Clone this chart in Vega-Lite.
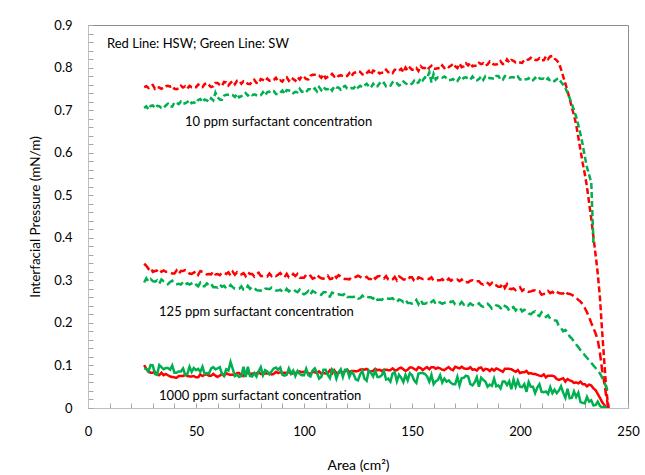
{
"$schema": "https://vega.github.io/schema/vega-lite/v6.json",
"width": 540, "height": 383,
"autosize": {"type": "none"},
"padding": {"left": 88, "top": 25, "right": 17, "bottom": 67},
"background": "white",
"config": {"view": {"stroke": "#8c8c8c", "strokeWidth": 1}, "font": "Lato"},
"datasets": {
"curves": [
{"x":26,"a":0.754,"b":0.705,"c":0.339,"d":0.295,"e":0.101,"f":0.093},
{"x":27,"a":0.756,"b":0.709,"c":0.334,"d":0.305,"e":0.092,"f":0.092},
{"x":28,"a":0.752,"b":0.702,"c":0.327,"d":0.297,"e":0.085,"f":0.086},
{"x":29,"a":0.756,"b":0.710,"c":0.331,"d":0.303,"e":0.083,"f":0.101},
{"x":30,"a":0.759,"b":0.711,"c":0.320,"d":0.298,"e":0.083,"f":0.100},
{"x":31,"a":0.750,"b":0.705,"c":0.322,"d":0.297,"e":0.085,"f":0.080},
{"x":32,"a":0.754,"b":0.710,"c":0.323,"d":0.300,"e":0.078,"f":0.078},
{"x":33,"a":0.753,"b":0.709,"c":0.327,"d":0.292,"e":0.077,"f":0.101},
{"x":34,"a":0.750,"b":0.705,"c":0.320,"d":0.302,"e":0.083,"f":0.096},
{"x":35,"a":0.753,"b":0.705,"c":0.323,"d":0.298,"e":0.077,"f":0.091},
{"x":36,"a":0.756,"b":0.711,"c":0.320,"d":0.297,"e":0.080,"f":0.094},
{"x":37,"a":0.757,"b":0.715,"c":0.320,"d":0.291,"e":0.077,"f":0.094},
{"x":38,"a":0.755,"b":0.709,"c":0.318,"d":0.296,"e":0.074,"f":0.090},
{"x":39,"a":0.757,"b":0.708,"c":0.316,"d":0.299,"e":0.073,"f":0.100},
{"x":40,"a":0.750,"b":0.718,"c":0.316,"d":0.292,"e":0.072,"f":0.083},
{"x":41,"a":0.749,"b":0.717,"c":0.323,"d":0.291,"e":0.071,"f":0.083},
{"x":42,"a":0.751,"b":0.714,"c":0.315,"d":0.292,"e":0.075,"f":0.086},
{"x":43,"a":0.757,"b":0.720,"c":0.322,"d":0.290,"e":0.075,"f":0.086},
{"x":44,"a":0.753,"b":0.715,"c":0.322,"d":0.296,"e":0.075,"f":0.093},
{"x":45,"a":0.756,"b":0.716,"c":0.324,"d":0.290,"e":0.078,"f":0.078},
{"x":46,"a":0.751,"b":0.719,"c":0.323,"d":0.293,"e":0.075,"f":0.080},
{"x":47,"a":0.757,"b":0.723,"c":0.316,"d":0.290,"e":0.074,"f":0.097},
{"x":48,"a":0.754,"b":0.716,"c":0.315,"d":0.293,"e":0.074,"f":0.085},
{"x":49,"a":0.754,"b":0.718,"c":0.318,"d":0.296,"e":0.075,"f":0.094},
{"x":50,"a":0.754,"b":0.716,"c":0.322,"d":0.290,"e":0.072,"f":0.089},
{"x":51,"a":0.760,"b":0.724,"c":0.313,"d":0.286,"e":0.072,"f":0.092},
{"x":52,"a":0.755,"b":0.726,"c":0.322,"d":0.294,"e":0.079,"f":0.085},
{"x":53,"a":0.754,"b":0.719,"c":0.320,"d":0.286,"e":0.075,"f":0.097},
{"x":54,"a":0.761,"b":0.725,"c":0.319,"d":0.286,"e":0.078,"f":0.080},
{"x":55,"a":0.763,"b":0.723,"c":0.314,"d":0.293,"e":0.079,"f":0.082},
{"x":56,"a":0.759,"b":0.720,"c":0.315,"d":0.288,"e":0.076,"f":0.081},
{"x":57,"a":0.754,"b":0.728,"c":0.314,"d":0.292,"e":0.076,"f":0.093},
{"x":58,"a":0.756,"b":0.723,"c":0.321,"d":0.284,"e":0.080,"f":0.096},
{"x":59,"a":0.764,"b":0.741,"c":0.314,"d":0.284,"e":0.076,"f":0.091},
{"x":60,"a":0.764,"b":0.730,"c":0.315,"d":0.283,"e":0.073,"f":0.093},
{"x":61,"a":0.759,"b":0.725,"c":0.312,"d":0.290,"e":0.076,"f":0.096},
{"x":62,"a":0.757,"b":0.724,"c":0.318,"d":0.285,"e":0.080,"f":0.081},
{"x":63,"a":0.766,"b":0.734,"c":0.318,"d":0.287,"e":0.075,"f":0.076},
{"x":64,"a":0.765,"b":0.736,"c":0.315,"d":0.281,"e":0.082,"f":0.091},
{"x":65,"a":0.758,"b":0.736,"c":0.319,"d":0.282,"e":0.079,"f":0.088},
{"x":66,"a":0.764,"b":0.736,"c":0.311,"d":0.289,"e":0.078,"f":0.108},
{"x":67,"a":0.768,"b":0.735,"c":0.320,"d":0.284,"e":0.078,"f":0.092},
{"x":68,"a":0.761,"b":0.731,"c":0.313,"d":0.280,"e":0.077,"f":0.075},
{"x":69,"a":0.769,"b":0.738,"c":0.319,"d":0.279,"e":0.082,"f":0.078},
{"x":70,"a":0.769,"b":0.730,"c":0.314,"d":0.280,"e":0.082,"f":0.073},
{"x":71,"a":0.762,"b":0.733,"c":0.314,"d":0.286,"e":0.076,"f":0.075},
{"x":72,"a":0.768,"b":0.735,"c":0.317,"d":0.278,"e":0.075,"f":0.097},
{"x":73,"a":0.766,"b":0.740,"c":0.310,"d":0.278,"e":0.084,"f":0.073},
{"x":74,"a":0.762,"b":0.734,"c":0.319,"d":0.287,"e":0.082,"f":0.097},
{"x":75,"a":0.761,"b":0.738,"c":0.315,"d":0.280,"e":0.080,"f":0.075},
{"x":76,"a":0.767,"b":0.735,"c":0.315,"d":0.285,"e":0.081,"f":0.074},
{"x":77,"a":0.771,"b":0.737,"c":0.309,"d":0.282,"e":0.081,"f":0.082},
{"x":78,"a":0.764,"b":0.735,"c":0.315,"d":0.277,"e":0.081,"f":0.074},
{"x":79,"a":0.763,"b":0.734,"c":0.318,"d":0.276,"e":0.085,"f":0.086},
{"x":80,"a":0.773,"b":0.735,"c":0.310,"d":0.276,"e":0.080,"f":0.096},
{"x":81,"a":0.771,"b":0.742,"c":0.310,"d":0.274,"e":0.080,"f":0.077},
{"x":82,"a":0.768,"b":0.735,"c":0.311,"d":0.280,"e":0.081,"f":0.089},
{"x":83,"a":0.774,"b":0.742,"c":0.309,"d":0.280,"e":0.081,"f":0.086},
{"x":84,"a":0.769,"b":0.743,"c":0.316,"d":0.279,"e":0.082,"f":0.079},
{"x":85,"a":0.769,"b":0.746,"c":0.310,"d":0.283,"e":0.079,"f":0.086},
{"x":86,"a":0.771,"b":0.745,"c":0.313,"d":0.279,"e":0.080,"f":0.093},
{"x":87,"a":0.776,"b":0.738,"c":0.310,"d":0.276,"e":0.085,"f":0.095},
{"x":88,"a":0.768,"b":0.738,"c":0.313,"d":0.276,"e":0.082,"f":0.090},
{"x":89,"a":0.770,"b":0.741,"c":0.317,"d":0.278,"e":0.084,"f":0.095},
{"x":90,"a":0.767,"b":0.746,"c":0.311,"d":0.273,"e":0.082,"f":0.078},
{"x":91,"a":0.775,"b":0.738,"c":0.307,"d":0.272,"e":0.083,"f":0.076},
{"x":92,"a":0.777,"b":0.747,"c":0.315,"d":0.280,"e":0.082,"f":0.078},
{"x":93,"a":0.769,"b":0.746,"c":0.307,"d":0.274,"e":0.085,"f":0.093},
{"x":94,"a":0.776,"b":0.745,"c":0.308,"d":0.278,"e":0.080,"f":0.081},
{"x":95,"a":0.773,"b":0.740,"c":0.315,"d":0.279,"e":0.082,"f":0.088},
{"x":96,"a":0.769,"b":0.743,"c":0.310,"d":0.275,"e":0.082,"f":0.075},
{"x":97,"a":0.777,"b":0.742,"c":0.315,"d":0.272,"e":0.085,"f":0.087},
{"x":98,"a":0.772,"b":0.750,"c":0.306,"d":0.278,"e":0.086,"f":0.080},
{"x":99,"a":0.780,"b":0.743,"c":0.306,"d":0.270,"e":0.084,"f":0.077},
{"x":100,"a":0.778,"b":0.744,"c":0.306,"d":0.267,"e":0.085,"f":0.077},
{"x":101,"a":0.773,"b":0.742,"c":0.313,"d":0.270,"e":0.086,"f":0.092},
{"x":102,"a":0.772,"b":0.749,"c":0.309,"d":0.275,"e":0.082,"f":0.077},
{"x":103,"a":0.781,"b":0.749,"c":0.311,"d":0.267,"e":0.080,"f":0.074},
{"x":104,"a":0.783,"b":0.747,"c":0.304,"d":0.275,"e":0.085,"f":0.088},
{"x":105,"a":0.783,"b":0.751,"c":0.306,"d":0.272,"e":0.084,"f":0.093},
{"x":106,"a":0.782,"b":0.744,"c":0.313,"d":0.268,"e":0.082,"f":0.083},
{"x":107,"a":0.781,"b":0.754,"c":0.308,"d":0.268,"e":0.086,"f":0.069},
{"x":108,"a":0.776,"b":0.747,"c":0.305,"d":0.266,"e":0.081,"f":0.073},
{"x":109,"a":0.784,"b":0.754,"c":0.304,"d":0.272,"e":0.082,"f":0.090},
{"x":110,"a":0.775,"b":0.749,"c":0.306,"d":0.272,"e":0.081,"f":0.090},
{"x":111,"a":0.778,"b":0.749,"c":0.311,"d":0.263,"e":0.082,"f":0.078},
{"x":112,"a":0.780,"b":0.753,"c":0.303,"d":0.262,"e":0.089,"f":0.070},
{"x":113,"a":0.785,"b":0.746,"c":0.304,"d":0.271,"e":0.081,"f":0.091},
{"x":114,"a":0.779,"b":0.756,"c":0.313,"d":0.269,"e":0.089,"f":0.086},
{"x":115,"a":0.783,"b":0.753,"c":0.306,"d":0.266,"e":0.082,"f":0.069},
{"x":116,"a":0.780,"b":0.753,"c":0.312,"d":0.267,"e":0.082,"f":0.084},
{"x":117,"a":0.782,"b":0.748,"c":0.309,"d":0.266,"e":0.086,"f":0.091},
{"x":118,"a":0.780,"b":0.754,"c":0.304,"d":0.265,"e":0.083,"f":0.073},
{"x":119,"a":0.780,"b":0.757,"c":0.303,"d":0.269,"e":0.086,"f":0.090},
{"x":120,"a":0.780,"b":0.751,"c":0.303,"d":0.261,"e":0.090,"f":0.090},
{"x":121,"a":0.787,"b":0.751,"c":0.302,"d":0.261,"e":0.084,"f":0.073},
{"x":122,"a":0.780,"b":0.752,"c":0.308,"d":0.261,"e":0.087,"f":0.085},
{"x":123,"a":0.787,"b":0.751,"c":0.308,"d":0.261,"e":0.087,"f":0.079},
{"x":124,"a":0.789,"b":0.758,"c":0.308,"d":0.263,"e":0.086,"f":0.067},
{"x":125,"a":0.791,"b":0.753,"c":0.311,"d":0.257,"e":0.087,"f":0.065},
{"x":126,"a":0.790,"b":0.757,"c":0.308,"d":0.258,"e":0.090,"f":0.079},
{"x":127,"a":0.784,"b":0.754,"c":0.305,"d":0.264,"e":0.091,"f":0.087},
{"x":128,"a":0.783,"b":0.758,"c":0.305,"d":0.259,"e":0.090,"f":0.069},
{"x":129,"a":0.787,"b":0.762,"c":0.308,"d":0.262,"e":0.092,"f":0.064},
{"x":130,"a":0.792,"b":0.756,"c":0.303,"d":0.260,"e":0.087,"f":0.088},
{"x":131,"a":0.783,"b":0.753,"c":0.303,"d":0.260,"e":0.086,"f":0.083},
{"x":132,"a":0.793,"b":0.762,"c":0.310,"d":0.257,"e":0.087,"f":0.074},
{"x":133,"a":0.791,"b":0.755,"c":0.304,"d":0.262,"e":0.092,"f":0.087},
{"x":134,"a":0.791,"b":0.756,"c":0.309,"d":0.254,"e":0.089,"f":0.073},
{"x":135,"a":0.786,"b":0.763,"c":0.310,"d":0.255,"e":0.090,"f":0.073},
{"x":136,"a":0.788,"b":0.759,"c":0.306,"d":0.254,"e":0.087,"f":0.077},
{"x":137,"a":0.788,"b":0.764,"c":0.304,"d":0.259,"e":0.090,"f":0.087},
{"x":138,"a":0.795,"b":0.756,"c":0.310,"d":0.259,"e":0.090,"f":0.067},
{"x":139,"a":0.789,"b":0.757,"c":0.302,"d":0.257,"e":0.089,"f":0.069},
{"x":140,"a":0.790,"b":0.757,"c":0.299,"d":0.257,"e":0.089,"f":0.062},
{"x":141,"a":0.787,"b":0.765,"c":0.302,"d":0.258,"e":0.093,"f":0.081},
{"x":142,"a":0.795,"b":0.761,"c":0.308,"d":0.252,"e":0.089,"f":0.084},
{"x":143,"a":0.795,"b":0.763,"c":0.300,"d":0.249,"e":0.089,"f":0.063},
{"x":144,"a":0.793,"b":0.758,"c":0.309,"d":0.255,"e":0.093,"f":0.078},
{"x":145,"a":0.797,"b":0.760,"c":0.306,"d":0.253,"e":0.095,"f":0.071},
{"x":146,"a":0.789,"b":0.767,"c":0.302,"d":0.249,"e":0.091,"f":0.061},
{"x":147,"a":0.800,"b":0.763,"c":0.302,"d":0.254,"e":0.087,"f":0.078},
{"x":148,"a":0.793,"b":0.760,"c":0.300,"d":0.247,"e":0.090,"f":0.065},
{"x":149,"a":0.800,"b":0.760,"c":0.307,"d":0.247,"e":0.095,"f":0.082},
{"x":150,"a":0.795,"b":0.762,"c":0.307,"d":0.245,"e":0.095,"f":0.077},
{"x":151,"a":0.795,"b":0.769,"c":0.299,"d":0.246,"e":0.092,"f":0.065},
{"x":152,"a":0.799,"b":0.763,"c":0.298,"d":0.254,"e":0.089,"f":0.059},
{"x":153,"a":0.792,"b":0.765,"c":0.307,"d":0.244,"e":0.096,"f":0.081},
{"x":154,"a":0.803,"b":0.775,"c":0.305,"d":0.254,"e":0.094,"f":0.082},
{"x":155,"a":0.799,"b":0.770,"c":0.303,"d":0.245,"e":0.089,"f":0.082},
{"x":156,"a":0.799,"b":0.777,"c":0.304,"d":0.245,"e":0.093,"f":0.080},
{"x":157,"a":0.794,"b":0.775,"c":0.304,"d":0.247,"e":0.096,"f":0.074},
{"x":158,"a":0.800,"b":0.789,"c":0.303,"d":0.244,"e":0.091,"f":0.062},
{"x":159,"a":0.804,"b":0.765,"c":0.307,"d":0.249,"e":0.096,"f":0.078},
{"x":160,"a":0.797,"b":0.785,"c":0.299,"d":0.253,"e":0.096,"f":0.056},
{"x":161,"a":0.797,"b":0.772,"c":0.299,"d":0.244,"e":0.092,"f":0.063},
{"x":162,"a":0.799,"b":0.777,"c":0.300,"d":0.249,"e":0.095,"f":0.066},
{"x":163,"a":0.797,"b":0.777,"c":0.300,"d":0.248,"e":0.093,"f":0.077},
{"x":164,"a":0.805,"b":0.776,"c":0.303,"d":0.245,"e":0.090,"f":0.060},
{"x":165,"a":0.799,"b":0.779,"c":0.297,"d":0.247,"e":0.089,"f":0.069},
{"x":166,"a":0.803,"b":0.775,"c":0.298,"d":0.250,"e":0.093,"f":0.062},
{"x":167,"a":0.801,"b":0.771,"c":0.304,"d":0.251,"e":0.096,"f":0.065},
{"x":168,"a":0.804,"b":0.771,"c":0.299,"d":0.249,"e":0.091,"f":0.059},
{"x":169,"a":0.809,"b":0.773,"c":0.303,"d":0.251,"e":0.089,"f":0.056},
{"x":170,"a":0.803,"b":0.767,"c":0.301,"d":0.243,"e":0.097,"f":0.056},
{"x":171,"a":0.799,"b":0.768,"c":0.302,"d":0.242,"e":0.095,"f":0.073},
{"x":172,"a":0.809,"b":0.776,"c":0.298,"d":0.243,"e":0.093,"f":0.053},
{"x":173,"a":0.801,"b":0.771,"c":0.302,"d":0.249,"e":0.097,"f":0.070},
{"x":174,"a":0.803,"b":0.776,"c":0.295,"d":0.243,"e":0.093,"f":0.071},
{"x":175,"a":0.810,"b":0.777,"c":0.296,"d":0.246,"e":0.092,"f":0.076},
{"x":176,"a":0.805,"b":0.774,"c":0.295,"d":0.241,"e":0.092,"f":0.074},
{"x":177,"a":0.811,"b":0.772,"c":0.299,"d":0.246,"e":0.096,"f":0.056},
{"x":178,"a":0.803,"b":0.779,"c":0.300,"d":0.242,"e":0.090,"f":0.053},
{"x":179,"a":0.804,"b":0.772,"c":0.297,"d":0.241,"e":0.091,"f":0.060},
{"x":180,"a":0.804,"b":0.770,"c":0.298,"d":0.241,"e":0.088,"f":0.072},
{"x":181,"a":0.811,"b":0.773,"c":0.298,"d":0.246,"e":0.094,"f":0.050},
{"x":182,"a":0.808,"b":0.779,"c":0.292,"d":0.240,"e":0.095,"f":0.071},
{"x":183,"a":0.810,"b":0.771,"c":0.290,"d":0.238,"e":0.088,"f":0.066},
{"x":184,"a":0.805,"b":0.780,"c":0.295,"d":0.243,"e":0.092,"f":0.062},
{"x":185,"a":0.807,"b":0.778,"c":0.294,"d":0.245,"e":0.091,"f":0.050},
{"x":186,"a":0.814,"b":0.775,"c":0.289,"d":0.240,"e":0.087,"f":0.055},
{"x":187,"a":0.810,"b":0.775,"c":0.294,"d":0.233,"e":0.092,"f":0.052},
{"x":188,"a":0.807,"b":0.773,"c":0.287,"d":0.235,"e":0.088,"f":0.069},
{"x":189,"a":0.807,"b":0.780,"c":0.288,"d":0.241,"e":0.093,"f":0.051},
{"x":190,"a":0.809,"b":0.780,"c":0.285,"d":0.240,"e":0.091,"f":0.053},
{"x":191,"a":0.815,"b":0.772,"c":0.285,"d":0.235,"e":0.088,"f":0.046},
{"x":192,"a":0.808,"b":0.771,"c":0.293,"d":0.231,"e":0.085,"f":0.062},
{"x":193,"a":0.809,"b":0.780,"c":0.282,"d":0.240,"e":0.092,"f":0.062},
{"x":194,"a":0.819,"b":0.778,"c":0.291,"d":0.237,"e":0.092,"f":0.054},
{"x":195,"a":0.812,"b":0.776,"c":0.281,"d":0.229,"e":0.092,"f":0.063},
{"x":196,"a":0.818,"b":0.777,"c":0.279,"d":0.235,"e":0.091,"f":0.044},
{"x":197,"a":0.816,"b":0.777,"c":0.281,"d":0.237,"e":0.088,"f":0.067},
{"x":198,"a":0.812,"b":0.775,"c":0.277,"d":0.229,"e":0.085,"f":0.050},
{"x":199,"a":0.812,"b":0.779,"c":0.281,"d":0.236,"e":0.089,"f":0.064},
{"x":200,"a":0.812,"b":0.772,"c":0.284,"d":0.235,"e":0.082,"f":0.050},
{"x":201,"a":0.811,"b":0.772,"c":0.275,"d":0.227,"e":0.084,"f":0.049},
{"x":202,"a":0.818,"b":0.773,"c":0.279,"d":0.231,"e":0.084,"f":0.056},
{"x":203,"a":0.818,"b":0.772,"c":0.277,"d":0.228,"e":0.087,"f":0.038},
{"x":204,"a":0.819,"b":0.775,"c":0.273,"d":0.222,"e":0.081,"f":0.061},
{"x":205,"a":0.823,"b":0.769,"c":0.274,"d":0.220,"e":0.082,"f":0.050},
{"x":206,"a":0.820,"b":0.770,"c":0.276,"d":0.225,"e":0.080,"f":0.050},
{"x":207,"a":0.818,"b":0.776,"c":0.276,"d":0.227,"e":0.080,"f":0.035},
{"x":208,"a":0.818,"b":0.771,"c":0.273,"d":0.219,"e":0.078,"f":0.048},
{"x":209,"a":0.822,"b":0.775,"c":0.274,"d":0.216,"e":0.076,"f":0.056},
{"x":210,"a":0.817,"b":0.773,"c":0.266,"d":0.225,"e":0.075,"f":0.038},
{"x":211,"a":0.817,"b":0.774,"c":0.268,"d":0.220,"e":0.079,"f":0.037},
{"x":212,"a":0.826,"b":0.770,"c":0.269,"d":0.214,"e":0.072,"f":0.039},
{"x":213,"a":0.820,"b":0.775,"c":0.275,"d":0.218,"e":0.076,"f":0.033},
{"x":214,"a":0.826,"b":0.768,"c":0.270,"d":0.210,"e":0.076,"f":0.049},
{"x":215,"a":0.827,"b":0.769,"c":0.273,"d":0.208,"e":0.076,"f":0.035},
{"x":216,"a":0.821,"b":0.768,"c":0.268,"d":0.206,"e":0.074,"f":0.043},
{"x":217,"a":0.817,"b":0.773,"c":0.273,"d":0.205,"e":0.068,"f":0.035},
{"x":218,"a":0.810,"b":0.774,"c":0.270,"d":0.192,"e":0.066,"f":0.041},
{"x":219,"a":0.796,"b":0.766,"c":0.269,"d":0.188,"e":0.068,"f":0.051},
{"x":220,"a":0.779,"b":0.760,"c":0.269,"d":0.180,"e":0.070,"f":0.036},
{"x":221,"a":0.762,"b":0.752,"c":0.275,"d":0.183,"e":0.062,"f":0.024},
{"x":222,"a":0.745,"b":0.741,"c":0.269,"d":0.178,"e":0.068,"f":0.045},
{"x":223,"a":0.726,"b":0.728,"c":0.268,"d":0.168,"e":0.065,"f":0.023},
{"x":224,"a":0.706,"b":0.714,"c":0.266,"d":0.163,"e":0.063,"f":0.024},
{"x":225,"a":0.688,"b":0.700,"c":0.263,"d":0.156,"e":0.059,"f":0.039},
{"x":226,"a":0.666,"b":0.684,"c":0.259,"d":0.149,"e":0.060,"f":0.026},
{"x":227,"a":0.636,"b":0.665,"c":0.254,"d":0.143,"e":0.058,"f":0.036},
{"x":228,"a":0.606,"b":0.644,"c":0.250,"d":0.136,"e":0.062,"f":0.014},
{"x":229,"a":0.576,"b":0.620,"c":0.244,"d":0.131,"e":0.056,"f":0.012},
{"x":230,"a":0.550,"b":0.591,"c":0.235,"d":0.124,"e":0.056,"f":0.011},
{"x":231,"a":0.520,"b":0.566,"c":0.225,"d":0.118,"e":0.051,"f":0.026},
{"x":232,"a":0.482,"b":0.548,"c":0.213,"d":0.112,"e":0.055,"f":0.015},
{"x":233,"a":0.445,"b":0.530,"c":0.200,"d":0.106,"e":0.053,"f":0.018},
{"x":234,"a":0.402,"b":0.387,"c":0.188,"d":0.100,"e":0.046,"f":0.006},
{"x":235,"a":0.360,"c":0.175,"d":0.094,"e":0.042,"f":0.007},
{"x":236,"a":0.316,"c":0.160,"d":0.088,"e":0.033,"f":0.015},
{"x":237,"a":0.260,"c":0.130,"d":0.081,"e":0.024,"f":0.005},
{"x":238,"a":0.182,"c":0.090,"d":0.072,"e":0.014,"f":0.001},
{"x":239,"a":0.110,"c":0.060,"d":0.061,"e":0.007,"f":0.003},
{"x":240,"a":0.040,"c":0.025,"d":0.048,"e":0.000,"f":0.000},
{"x":241,"a":0.000,"c":0.000,"d":0.035}
],
"notes": [
{"t":"Red Line: HSW; Green Line: SW","x":8.8,"y":0.855},
{"t":"10 ppm surfactant concentration","x":44.9,"y":0.672},
{"t":"125 ppm surfactant concentration","x":32.9,"y":0.226},
{"t":"1000 ppm surfactant concentration","x":32.9,"y":0.028}
]
},
"layer": [
{
"data": {"name": "curves"},
"transform": [
{"fold": ["a","b","c","d","e","f"], "as": ["k","y"]},
{"filter": "isValid(datum.y)"}
],
"mark": {"type": "line", "clip": true},
"encoding": {
"x": {"field": "x", "type": "quantitative",
"scale": {"domain": [0, 250], "nice": false, "zero": false},
"axis": {"values": [0,10,20,30,40,50,60,70,80,90,100,110,120,130,140,150,160,170,180,190,200,210,220,230,240,250], "tickCount": 200,
"labelExpr": "datum.value % 50 === 0 ? datum.label : ''", "labelOverlap": false, "labelFlush": false,
"grid": false, "domainColor": "#bfbfbf", "tickColor": "#a6a6a6", "tickSize": -5,
"labelPadding": 22, "labelFontSize": 13, "labelColor": "#000000", "labelFont": "Lato",
"title": "Area (cm²)", "titleFontSize": 14, "titleFontWeight": "normal", "titleColor": "#000000", "titleFont": "Lato", "titlePadding": 20}},
"y": {"field": "y", "type": "quantitative",
"scale": {"domain": [0, 0.9], "nice": false},
"axis": {"values": [0,0.02,0.04,0.06,0.08,0.1,0.12,0.14,0.16,0.18,0.2,0.22,0.24,0.26,0.28,0.3,0.32,0.34,0.36,0.38,0.4,0.42,0.44,0.46,0.48,0.5,0.52,0.54,0.56,0.58,0.6,0.62,0.64,0.66,0.68,0.7,0.72,0.74,0.76,0.78,0.8,0.82,0.84,0.86,0.88,0.9], "tickCount": 200,
"labelExpr": "abs(datum.value*10 - round(datum.value*10)) < 0.001 ? format(datum.value, '.1~f') : ''", "labelOverlap": false, "labelFlush": false,
"grid": false, "domainColor": "#bfbfbf", "tickColor": "#a6a6a6", "tickSize": -5,
"labelPadding": 21, "labelFontSize": 13, "labelColor": "#000000", "labelFont": "Lato",
"title": "Interfacial Pressure (mN/m)", "titleFontSize": 13.5, "titleFontWeight": "normal", "titleColor": "#000000", "titleFont": "Lato", "titlePadding": 11}},
"color": {"field": "k", "type": "nominal", "legend": null,
"scale": {"domain": ["a","b","c","d","e","f"], "range": ["#FF0000","#00B050","#FF0000","#00B050","#FF0000","#00B050"]}},
"strokeDash": {"field": "k", "type": "nominal", "legend": null,
"scale": {"domain": ["a","b","c","d","e","f"], "range": [[6,3],[6,3],[8,4],[8,4],[1,0],[1,0]]}},
"strokeWidth": {"field": "k", "type": "ordinal", "legend": null,
"scale": {"domain": ["a","b","c","d","e","f"], "range": [2.5,2.5,2.5,2.5,1.6,1.6]}}
}
},
{
"data": {"name": "notes"},
"mark": {"type": "text", "align": "left", "baseline": "middle", "fontSize": 13, "font": "Lato", "color": "#000000"},
"encoding": {
"x": {"field": "x", "type": "quantitative"},
"y": {"field": "y", "type": "quantitative"},
"text": {"field": "t"}
}
}
]
}
